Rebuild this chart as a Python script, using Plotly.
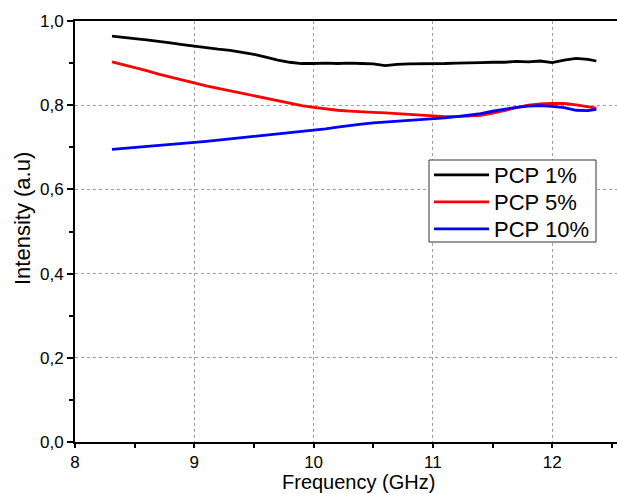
import plotly.graph_objects as go

freq = [8.31, 8.4, 8.5, 8.6, 8.7, 8.8, 8.9, 9.0, 9.1, 9.2, 9.3, 9.4, 9.5, 9.6, 9.7, 9.8, 9.9,
        10.0, 10.1, 10.2, 10.3, 10.4, 10.5, 10.6, 10.7, 10.8, 10.9, 11.0, 11.1, 11.2, 11.3,
        11.4, 11.5, 11.6, 11.7, 11.8, 11.9, 12.0, 12.1, 12.2, 12.3, 12.37]

pcp1 = [0.964, 0.962, 0.958, 0.955, 0.952, 0.948, 0.944, 0.940, 0.937, 0.933, 0.930, 0.926,
        0.921, 0.914, 0.907, 0.902, 0.899, 0.899, 0.900, 0.899, 0.900, 0.899, 0.898, 0.894,
        0.897, 0.898, 0.898, 0.899, 0.899, 0.900, 0.900, 0.901, 0.902, 0.902, 0.904, 0.903,
        0.905, 0.901, 0.907, 0.911, 0.909, 0.905]

pcp5 = [0.903, 0.897, 0.889, 0.882, 0.874, 0.867, 0.860, 0.852, 0.846, 0.840, 0.834, 0.828,
        0.822, 0.816, 0.810, 0.804, 0.799, 0.795, 0.791, 0.788, 0.786, 0.784, 0.783, 0.782,
        0.780, 0.778, 0.776, 0.774, 0.773, 0.773, 0.774, 0.776, 0.781, 0.788, 0.794, 0.800,
        0.803, 0.804, 0.804, 0.801, 0.797, 0.793]

pcp10 = [0.695, 0.697, 0.700, 0.703, 0.705, 0.706, 0.708, 0.711, 0.714, 0.717, 0.720, 0.722,
         0.725, 0.728, 0.731, 0.734, 0.737, 0.740, 0.744, 0.748, 0.752, 0.755, 0.758, 0.760,
         0.761, 0.763, 0.765, 0.767, 0.770, 0.773, 0.776, 0.780, 0.786, 0.791, 0.795, 0.798,
         0.799, 0.797, 0.794, 0.788, 0.787, 0.790]

series_names = ["PCP 1%", "PCP 5%", "PCP 10%"]
series_vals = [pcp1, pcp5, pcp10]
series_colors = ["#000000", "#ff0000", "#0000ff"]

x_ticks = [8, 9, 10, 11, 12]
y_ticks = [0.0, 0.2, 0.4, 0.6, 0.8, 1.0]

FONT = "Liberation Sans, Arial, sans-serif"

# plot-area pixel geometry (for paper-coordinate placement of layout items)
L, R, T, B = 75, 617, 21, 442
W, H = R - L, B - T

def px_x(p):
    return (p - L) / W

def px_y(p):
    return (B - p) / H

legend_keys = ["legend", "legend2", "legend3"]
legend_rows = [175, 202, 229]

fig = go.Figure()
for name, vals, col, lk in zip(series_names, series_vals, series_colors, legend_keys):
    fig.add_trace(go.Scatter(x=freq, y=vals, mode="lines", name=name, legend=lk,
                             line=dict(color=col, width=2.8)))

axis_common = dict(
    showline=True, linecolor="black", linewidth=2,
    ticks="outside", tickwidth=2, tickcolor="black",
    showgrid=True, gridcolor="#a0a0a0", gridwidth=1, griddash="3px,3px",
    zeroline=False,
    tickfont=dict(family=FONT, size=17, color="black"),
)

fig.update_xaxes(range=[8, 12.543], tickvals=x_ticks, mirror=True, ticklen=4,
                 minor=dict(dtick=0.5, tick0=8, ticks="outside", ticklen=4, tickwidth=2,
                            tickcolor="black", showgrid=False),
                 **axis_common)
fig.update_yaxes(range=[0, 1.0], tickvals=y_ticks, tickformat=".1f", ticklen=6,
                 minor=dict(dtick=0.1, tick0=0, ticks="outside", ticklen=4, tickwidth=2,
                            tickcolor="black", showgrid=False),
                 **axis_common)

fig.add_annotation(text="Frequency (GHz)", xref="paper", yref="paper",
                   x=px_x(358), y=px_y(494), xanchor="center", yanchor="bottom",
                   borderpad=0, showarrow=False,
                   font=dict(family=FONT, size=20, color="black"))
fig.add_annotation(text="Intensity (a.u)", xref="paper", yref="paper", textangle=-90,
                   x=px_x(22), y=px_y(219), xanchor="center", yanchor="middle",
                   showarrow=False, font=dict(family=FONT, size=22, color="black"))

# legend frame
fig.add_shape(type="rect", xref="paper", yref="paper",
              x0=px_x(429), x1=px_x(596), y0=px_y(242), y1=px_y(160),
              line=dict(color="#333333", width=1), fillcolor="white", layer="above")

legend_layout = {}
for lk, row in zip(legend_keys, legend_rows):
    legend_layout[lk] = dict(x=px_x(429), y=px_y(row), xanchor="left", yanchor="middle",
                             bgcolor="rgba(0,0,0,0)", borderwidth=0,
                             font=dict(family=FONT, size=22, color="black"),
                             itemwidth=55)

fig.update_layout(
    width=617, height=494,
    margin=dict(l=L, r=617 - R, t=T, b=494 - B),
    paper_bgcolor="white", plot_bgcolor="white",
    separators=",.",
    showlegend=True,
    **legend_layout,
)

fig.write_html("out.html", config={"displayModeBar": False},
               post_script="document.body.style.margin='0';document.body.style.padding='0';")
